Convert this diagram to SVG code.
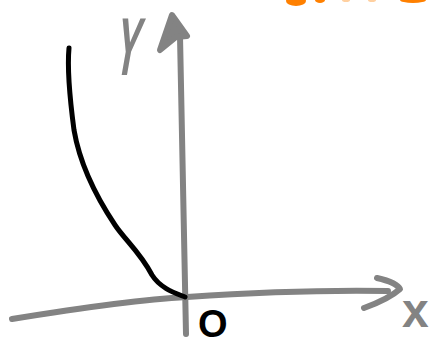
<svg xmlns="http://www.w3.org/2000/svg" width="430" height="347" viewBox="0 0 430 347">
<style>
.ax{fill:none;stroke:#838383;stroke-width:6;stroke-linecap:round;stroke-linejoin:round}
.crv{fill:none;stroke:#000;stroke-width:5;stroke-linecap:round;stroke-linejoin:round}
.lbl{font-family:"Liberation Sans",Arial,sans-serif;font-weight:bold}
.or{fill:#ff8000}
</style>
<rect width="430" height="347" fill="#fff"/>
<g id="orange-fragments">
<ellipse class="or" cx="296" cy="1" rx="10" ry="5"/>
<ellipse class="or" cx="320" cy="0" rx="5" ry="3"/>
<ellipse cx="346" cy="0" rx="4" ry="2" fill="#ffd0a0"/>
<ellipse cx="372" cy="0" rx="4" ry="2" fill="#ffd0a0"/>
<ellipse class="or" cx="413" cy="0" rx="13" ry="3"/>
</g>
<g id="connectors">
<path id="y-axis" class="ax" d="M180,36 C181,120 184,220 186,334"/>
<path id="y-arrowhead" class="ax" style="fill:#838383" d="M160,50 L172,15 L187,36 L176,37 Z"/>
<path id="x-axis" class="ax" d="M12,319 C80,308 150,299 187,297 C260,292 330,290 388,291"/>
<path id="x-arrowhead" class="ax" d="M377,278 C390,281 398,285 400,289 C390,298 375,304 364,308"/>
</g>
<g id="curve">
<path class="crv" d="M69,48 C67,70 70,100 74,130 C80,165 95,195 115,225 C125,240 140,252 152,275 C160,288 175,293 185,297"/>
</g>
<g id="label-y">
<text class="lbl" fill="#838383" font-size="82" transform="translate(112,75) skewX(-10) scale(0.45,1)">Y</text>
</g>
<g id="label-origin">
<text class="lbl" fill="#000" font-size="38" x="198" y="337">O</text>
</g>
<g id="label-x">
<text class="lbl" fill="#838383" font-size="48" x="402" y="327">x</text>
</g>
</svg>
